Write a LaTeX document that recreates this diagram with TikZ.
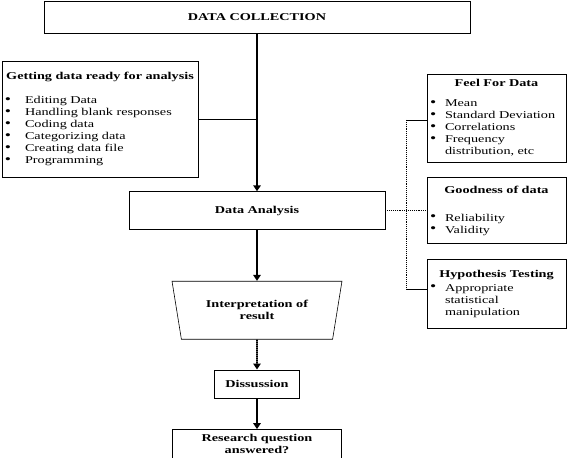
\documentclass[tikz,border=0pt]{standalone}
\usepackage{fontspec}
\setmainfont{Liberation Serif}[FakeStretch=1.36]
\usetikzlibrary{arrows.meta,positioning,shapes.geometric}

\newcommand{\itm}[2][20bp]{\makebox[#1][l]{\raisebox{0.3bp}{\fontsize{13}{12}\selectfont\textbullet}}#2}
\newcommand{\boxhead}[2][9bp]{{\centering\bfseries #2\par}\vspace{#1}}

\begin{document}
\begin{tikzpicture}[
  x=1bp, y=-1bp,
  node distance=30bp and 20bp,
  font=\fontsize{10.5}{12}\selectfont,
  box/.style={draw, line width=0.6bp, inner sep=0pt, align=center, font=\fontsize{10.5}{12}\selectfont\bfseries},
  listbox/.style={draw, line width=0.6bp, inner xsep=3bp, inner ysep=0pt, align=left},
  arrow/.style={-{Triangle[length=6bp,width=7.5bp]}, line width=1.8bp, dash pattern=on 1.6bp off 0.4bp},
  link/.style={line width=0.6bp},
  dotlink/.style={line width=0.9bp, densely dotted}
]
\useasboundingbox (0,0) rectangle (567,458);

% main column
\node[box, minimum width=426bp, minimum height=32bp] (collect) at (257,17) {DATA COLLECTION};
\node[box, minimum width=256bp, minimum height=38bp, below=158bp of collect] (analysis) {Data Analysis};
\node[box, trapezium, trapezium stretches=true, shape border rotate=180,
  trapezium left angle=72, trapezium right angle=72,
  minimum width=170bp, minimum height=58bp, below=51bp of analysis] (interp) {Interpretation of\\result};
\node[box, minimum width=85bp, minimum height=28bp, below=30bp of interp] (diss) {Dissussion};
\node[box, minimum width=169bp, minimum height=29bp, below=31bp of diss] (answer) {Research question\\answered?};

% preparation
\node[listbox, text width=190bp, minimum height=116bp,
  font=\fontsize{10.5}{12.1}\selectfont] (ready) at (100,119) {%
  \boxhead[12bp]{Getting data ready for analysis}
  \itm{Editing Data}\\
  \itm{Handling blank responses}\\
  \itm{Coding data}\\
  \itm{Categorizing data}\\
  \itm{Creating data file}\\
  \itm{Programming}};

% analysis branches
\node[listbox, text width=133bp, minimum height=88bp] (feel) at (496.5,118) {%
  \boxhead[8bp]{Feel For Data}
  \itm[15bp]{Mean}\\
  \itm[15bp]{Standard Deviation}\\
  \itm[15bp]{Correlations}\\
  \itm[15bp]{Frequency}\\
  \hspace*{15bp}distribution, etc};
\node[listbox, text width=133bp, minimum height=66bp, below=15bp of feel] (goodness) {%
  \boxhead[16bp]{Goodness of data}
  \itm[15bp]{Reliability}\\
  \itm[15bp]{Validity}\par\vspace{6bp}};
\node[listbox, text width=133bp, minimum height=69bp, below=15bp of goodness] (hyp) {%
  \boxhead[2bp]{Hypothesis Testing}
  \itm[15bp]{Appropriate}\\
  \hspace*{15bp}statistical\\
  \hspace*{15bp}manipulation\par\vspace{6bp}};

\coordinate (bustop) at (406,120);
\coordinate (busbot) at (406,289);

\draw[arrow] (collect) -- (analysis);
\draw[arrow] (analysis) -- (interp);
\draw[arrow] (interp) -- (diss);
\draw[arrow] (diss) -- (answer);
\draw[link] (ready) -- (ready -| collect);
\draw[dotlink] (analysis) -- (analysis -| goodness.west);
\draw[dotlink] (bustop) -- (busbot);
\draw[link] (bustop) -- (bustop -| feel.west);
\draw[link] (busbot) -- (busbot -| hyp.west);
\end{tikzpicture}
\end{document}
